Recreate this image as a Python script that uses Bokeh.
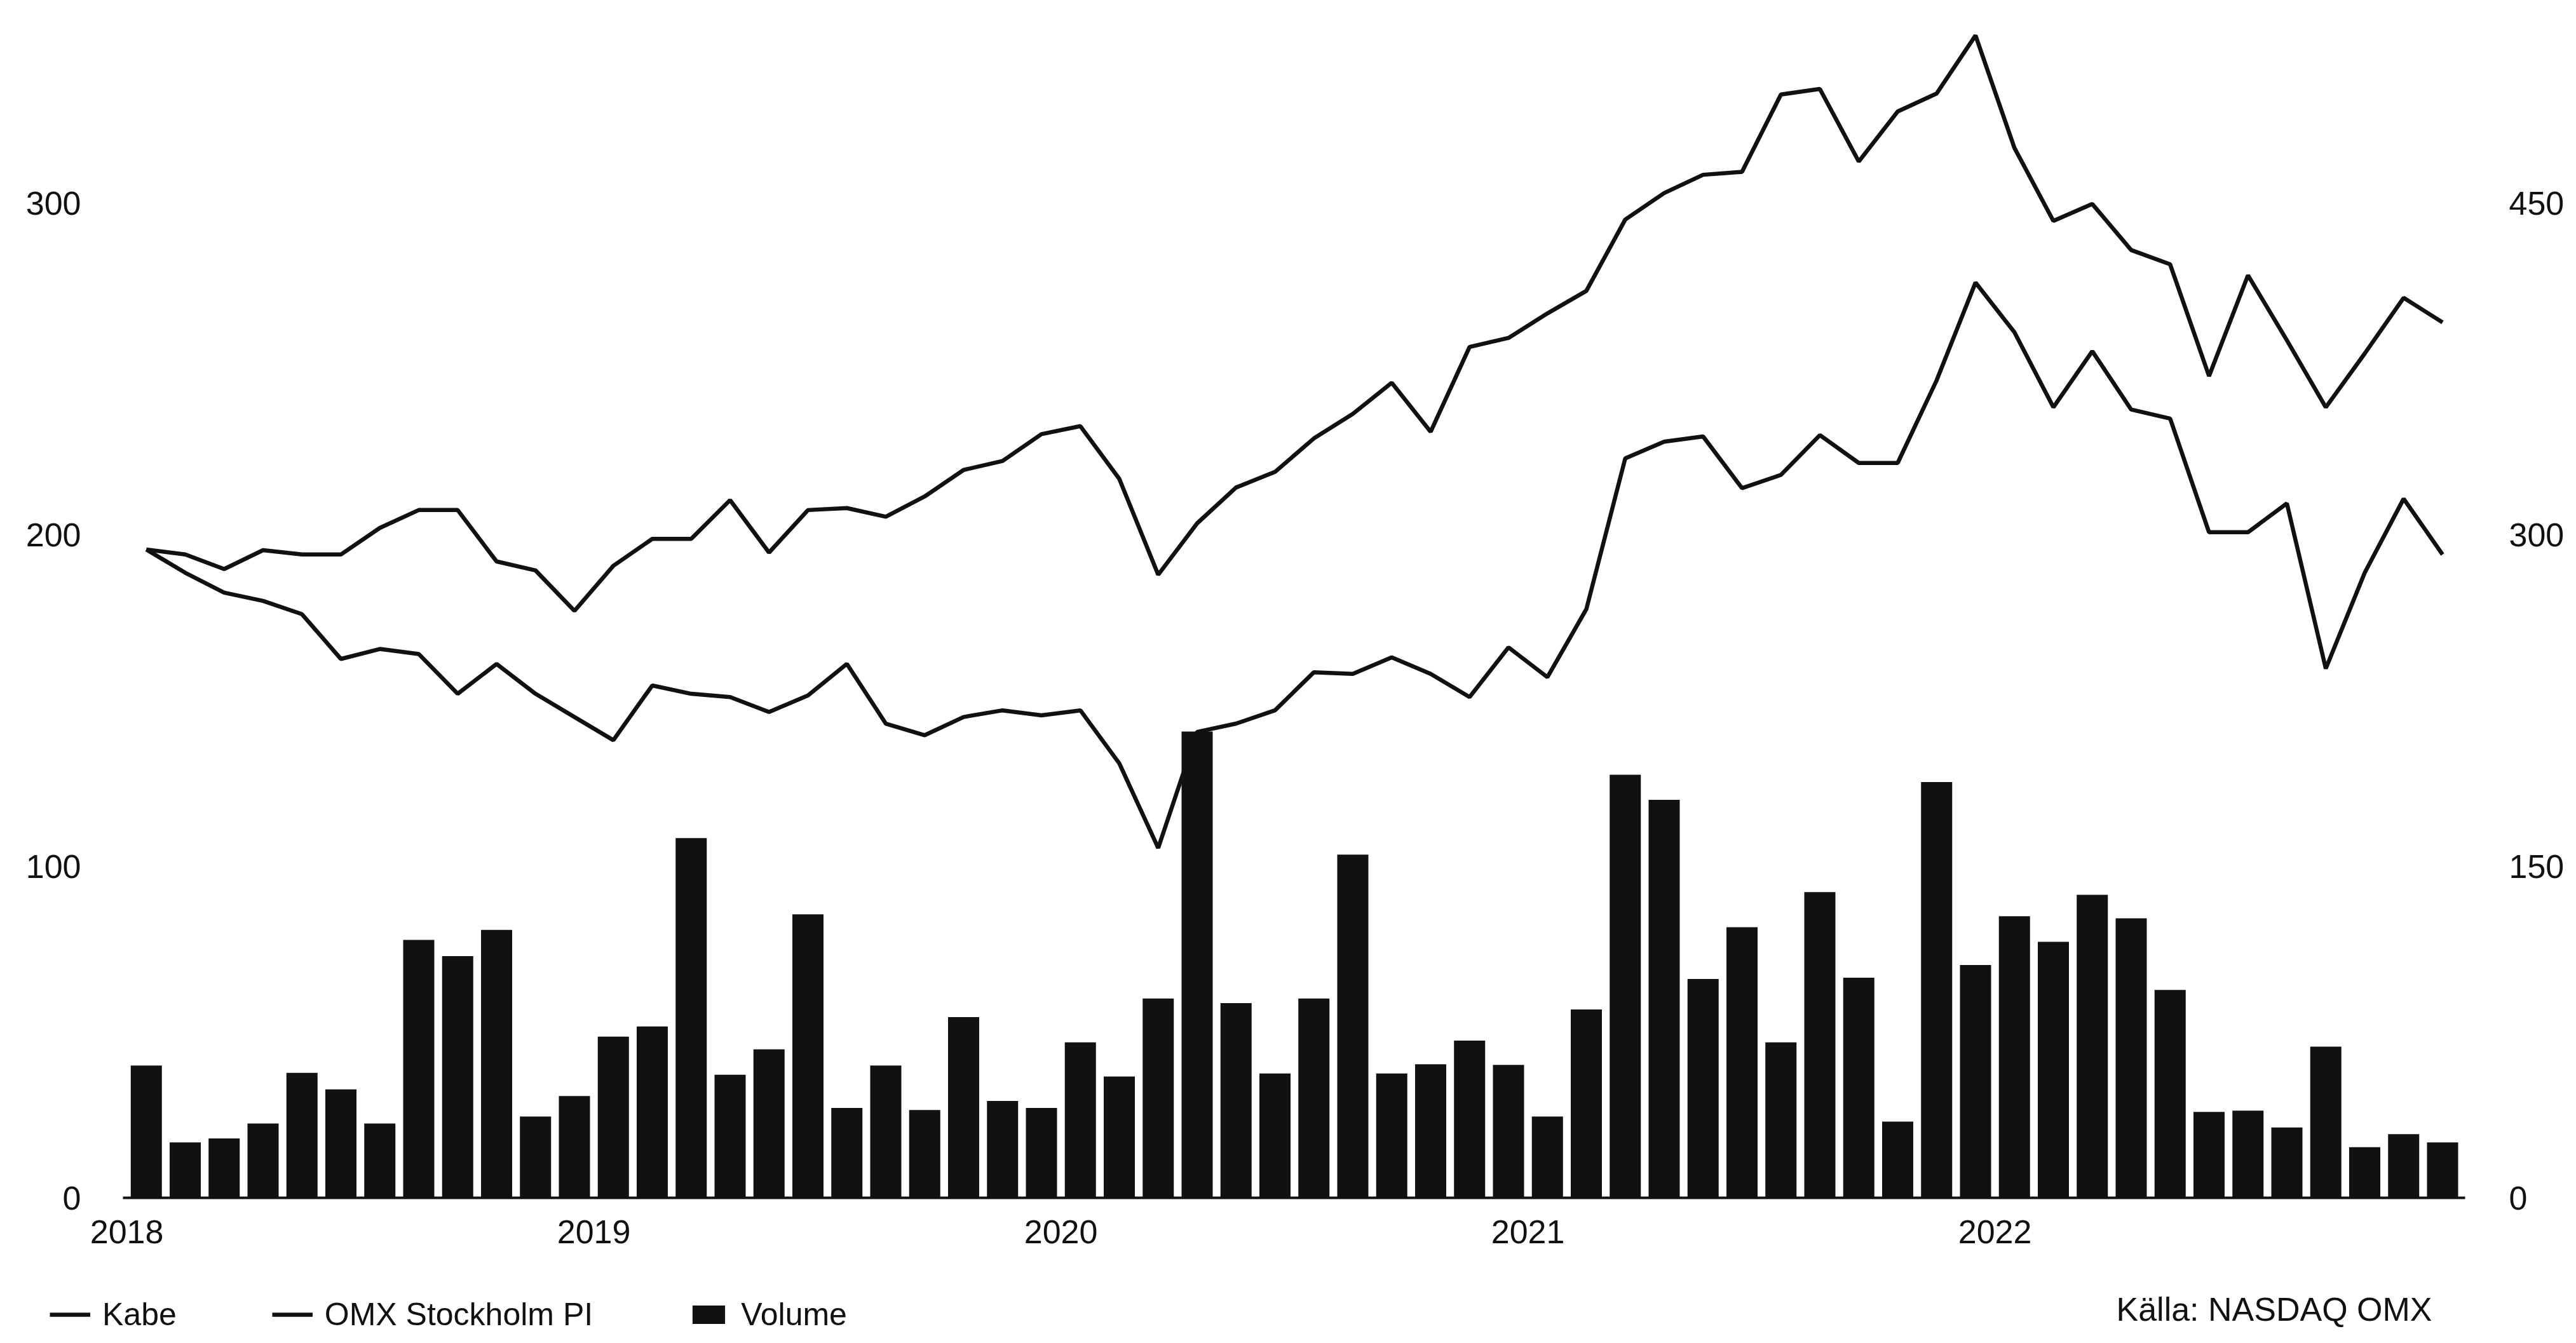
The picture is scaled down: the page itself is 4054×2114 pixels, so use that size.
from bokeh.plotting import figure
from bokeh.models import (Range1d, LinearAxis, FixedTicker, Legend, LegendItem,
                          Label, ColumnDataSource)
from bokeh.embed import file_html
from bokeh.resources import INLINE
import numpy as np

# ---------------- data (monthly, Jan 2018 - Dec 2022) ----------------
months = [f"{y}-{m:02d}" for y in range(2018, 2023) for m in range(1, 13)]

kabe = [195.5, 188.5, 182.5, 180.0, 176.0, 162.5, 165.5, 164.0, 152.0, 161.0, 152.0, 145.0,
        138.0, 154.5, 152.0, 151.0, 146.5, 151.5, 161.0, 143.0, 139.5, 145.0, 147.0, 145.5,
        147.0, 131.0, 105.5, 140.5, 143.0, 147.0, 158.5, 158.0, 163.0, 158.0, 151.0, 166.0,
        157.0, 177.5, 223.0, 228.0, 229.6, 214.0, 218.0, 230.0, 221.6, 221.6, 246.5, 276.0,
        261.0, 238.4, 255.3, 237.7, 235.0, 200.7, 200.7, 209.4, 159.6, 188.5, 210.8, 194.0]

omx = [195.5, 194.0, 189.6, 195.3, 194.0, 194.0, 202.0, 207.4, 207.4, 191.9, 189.2, 177.0,
       190.6, 198.7, 198.7, 210.4, 194.6, 207.4, 208.0, 205.4, 211.5, 219.5, 222.2, 230.3,
       232.7, 216.8, 187.9, 203.4, 214.2, 218.9, 229.0, 236.4, 245.8, 231.0, 256.6, 259.3,
       266.7, 273.5, 295.0, 303.0, 308.5, 309.4, 332.7, 334.4, 312.5, 327.6, 333.0, 350.5,
       316.6, 294.6, 299.7, 285.8, 281.5, 247.8, 278.2, 258.6, 238.4, 254.6, 271.4, 264.0]

volume = [39.9, 16.7, 17.9, 22.4, 37.7, 32.7, 22.4, 77.8, 72.9, 80.8, 24.5, 30.7,
          48.6, 51.7, 108.5, 37.1, 44.8, 85.5, 27.1, 39.9, 26.5, 54.5, 29.2, 27.1,
          46.9, 36.6, 60.1, 140.6, 58.7, 37.5, 60.1, 103.5, 37.5, 40.3, 47.4, 40.1,
          24.5, 56.8, 127.6, 120.0, 66.0, 81.6, 46.9, 92.2, 66.4, 23.0, 125.4, 70.2,
          84.9, 77.2, 91.4, 84.3, 62.7, 25.9, 26.3, 21.2, 45.6, 15.3, 19.2, 16.7]

year_labels = ["2018", "2019", "2020", "2021", "2022"]
left_ticks = [0, 100, 200, 300]
right_ticks = [0, 150, 300, 450]
source_text = "Källa: NASDAQ OMX"

# ---------------- layout ----------------
FONT = "Liberation Sans"
FS = "52px"
LFS = "50px"
INK = "#111111"

x = np.arange(len(months)) + 0.5          # mid-month positions, 0 = Jan 1 2018
year_pos = [12 * i for i in range(len(year_labels))]

src = ColumnDataSource(dict(x=x, month=months, kabe=kabe, omx=omx, volume=volume))

W, H = 4038, 2098
PX_M = 61.25          # pixels per month
PX_V = 5.22           # pixels per value unit
X0, Y0 = 193, 1885    # canvas position of (x=-0.1 .. , value 0)
XS, XE = -0.1, 60.08  # visible extent of the time axis

x_start = XS - X0 / PX_M
x_end = XS + (W - X0) / PX_M
y_end = Y0 / PX_V
y_start = -(H - Y0) / PX_V

p = figure(width=W, height=H, output_backend="svg", toolbar_location=None,
           x_range=Range1d(x_start, x_end), y_range=Range1d(y_start, y_end),
           x_axis_location=None, y_axis_location=None,
           min_border=0, min_border_left=0, min_border_right=0,
           min_border_top=0, min_border_bottom=0, outline_line_color=None,
           background_fill_color="white", border_fill_color="white")
p.grid.visible = False
p.extra_y_ranges = {"right": Range1d(y_start * 1.5, y_end * 1.5)}

r_vol = p.vbar(x="x", top="volume", width=0.8, bottom=0, source=src,
               fill_color=INK, line_color=None)
r_omx = p.line(x="x", y="omx", source=src, line_color=INK, line_width=6.5)
r_kabe = p.line(x="x", y="kabe", source=src, line_color=INK, line_width=6.5)

# x axis, drawn at value 0
xa = LinearAxis(fixed_location=0, bounds=(XS, XE), ticker=FixedTicker(ticks=year_pos))
xa.major_label_overrides = {pos: lab for pos, lab in zip(year_pos, year_labels)}
xa.major_tick_line_color = None
xa.minor_tick_line_color = None
xa.axis_line_color = INK
xa.axis_line_width = 4
xa.major_label_standoff = 29
xa.major_label_text_font = FONT
xa.major_label_text_font_size = FS
xa.major_label_text_color = INK
p.add_layout(xa, "below")

# left axis
ya = LinearAxis(fixed_location=XS, ticker=FixedTicker(ticks=left_ticks))
ya.axis_line_color = None
ya.major_tick_line_color = None
ya.minor_tick_line_color = None
ya.major_label_standoff = 60
ya.major_label_text_font = FONT
ya.major_label_text_font_size = FS
ya.major_label_text_color = INK
p.add_layout(ya, "left")

# right axis
ra = LinearAxis(y_range_name="right", fixed_location=XE,
                ticker=FixedTicker(ticks=right_ticks))
ra.axis_line_color = None
ra.major_tick_line_color = None
ra.minor_tick_line_color = None
ra.major_label_standoff = 63
ra.major_label_text_font = FONT
ra.major_label_text_font_size = FS
ra.major_label_text_color = INK
p.add_layout(ra, "right")

legend = Legend(items=[LegendItem(label="Kabe", renderers=[r_kabe]),
                       LegendItem(label="OMX Stockholm PI", renderers=[r_omx]),
                       LegendItem(label="Volume", renderers=[r_vol])],
                orientation="horizontal", location=(78, 0),
                glyph_width=64, glyph_height=36, label_standoff=19, spacing=150,
                padding=0, margin=0, border_line_color=None,
                background_fill_alpha=0,
                label_text_font=FONT, label_text_font_size=LFS,
                label_text_color=INK)
p.add_layout(legend)

p.add_layout(Label(x=3827, y=38, x_units="screen", y_units="screen",
                   text=source_text, text_align="right", text_baseline="middle",
                   text_font=FONT, text_font_size=FS, text_color=INK))

open("out.html", "w").write(file_html(p, INLINE))
